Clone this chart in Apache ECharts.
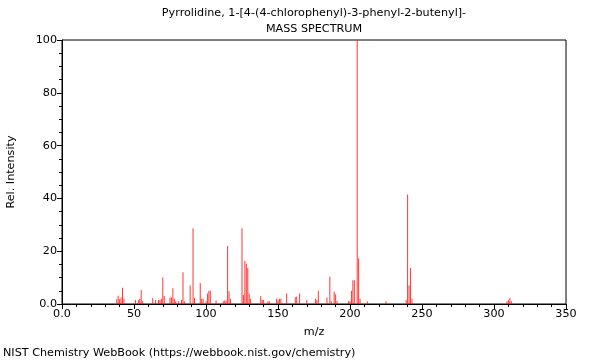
<!DOCTYPE html>
<html><head><meta charset="utf-8">
<script src="https://cdn.jsdelivr.net/npm/echarts@6/dist/echarts.min.js"></script>
<style>html,body{margin:0;padding:0;background:#fff}#c{width:600px;height:360px}</style>
</head><body><div id="c"></div>
<script>
const titleLine1 = "Pyrrolidine, 1-[4-(4-chlorophenyl)-3-phenyl-2-butenyl]-";
const titleLine2 = "MASS SPECTRUM";
const footer = "NIST Chemistry WebBook (https://webbook.nist.gov/chemistry)";
const xTicks = [0, 50, 100, 150, 200, 250, 300, 350];
const yTicks = [0, 20, 40, 60, 80, 100];
const mz = [38,39,40,41,42,43,51,53,54,55,56,63,65,67,68,69,70,71,75,76,77,78,79,81,83,84,85,89,91,92,96,97,98,100,101,102,103,107,112,113,114,115,116,117,125,126,127,128,129,130,131,138,139,140,143,144,149,150,151,152,156,162,163,165,170,176,177,178,184,186,187,189,190,191,199,200,201,202,203,205,206,207,212,225,239,240,241,242,243,309,310,311,312];
const intensity = [1.8,3.1,1.8,2.5,6.2,2,1.5,1.5,2,5.3,1,2.3,1.5,1.5,1.5,2,10,3,2.5,2.5,6,2,1,1,1.5,12,1,7,28.7,2.3,8,2,2,1,4,5,5,1.3,1,1.3,1.3,22,4.8,2,28.7,3.4,16.3,15.2,13.6,4,2,3,1.5,1.5,1,1,2,1.5,2,2,4,2.6,2.8,4,1.5,2,1.5,5,2.5,10.3,1,4.6,3.7,1,1,1,5,9,9,100,17.3,2,1,1,1.5,41.5,7,13.6,2,1,1.5,2.3,1];
const data = mz.map((m, i) => [m, intensity[i]]);
const chart = echarts.init(document.getElementById('c'), null, {renderer: 'canvas'});
const font = 'DejaVu Sans';
const fs = 11.2;
chart.setOption({
  animation: false,
  textStyle: {fontFamily: font},
  title: [
    {text: titleLine1, left: 314, top: 8, padding: 0, textAlign: 'center', textStyle: {fontSize: fs, fontWeight: 'normal', color: '#000', fontFamily: font}},
    {text: titleLine2, left: 314, top: 24, padding: 0, textAlign: 'center', textStyle: {fontSize: fs, fontWeight: 'normal', color: '#000', fontFamily: font}},
    {text: footer, left: 3, top: 348, padding: 0, textStyle: {fontSize: fs, fontWeight: 'normal', color: '#000', fontFamily: font}}
  ],
  grid: {left: 62, right: 34, top: 40, bottom: 56, show: true, borderColor: '#000', borderWidth: 1, containLabel: false, outerBoundsMode: 'none'},
  xAxis: {
    type: 'value', min: xTicks[0], max: xTicks[xTicks.length - 1], interval: 50,
    name: 'm/z', nameLocation: 'middle', nameGap: 23,
    nameTextStyle: {fontSize: fs, color: '#000', fontFamily: font},
    axisLine: {lineStyle: {color: '#000'}},
    axisTick: {show: true, length: 5, lineStyle: {color: '#000'}},
    minorTick: {show: true, splitNumber: 5, length: 3, lineStyle: {color: '#000'}},
    axisLabel: {fontSize: fs, color: '#000', margin: 5, formatter: v => v === 0 ? '0.0' : String(v), fontFamily: font},
    splitLine: {show: false}
  },
  yAxis: {
    type: 'value', min: yTicks[0], max: yTicks[yTicks.length - 1], interval: 20,
    name: 'Rel. Intensity', nameLocation: 'middle', nameGap: 45,
    nameTextStyle: {fontSize: fs, color: '#000', fontFamily: font},
    axisLine: {lineStyle: {color: '#000'}},
    axisTick: {show: true, length: 5, lineStyle: {color: '#000'}},
    minorTick: {show: true, splitNumber: 4, length: 3, lineStyle: {color: '#000'}},
    axisLabel: {fontSize: fs, color: '#000', margin: 5, formatter: v => v === 0 ? '0.0' : String(v), fontFamily: font},
    splitLine: {show: false}
  },
  series: [{
    type: 'bar', data: data, barWidth: 1,
    itemStyle: {color: 'rgba(255,20,20,0.85)'},
    silent: true
  }]
});
</script></body></html>
